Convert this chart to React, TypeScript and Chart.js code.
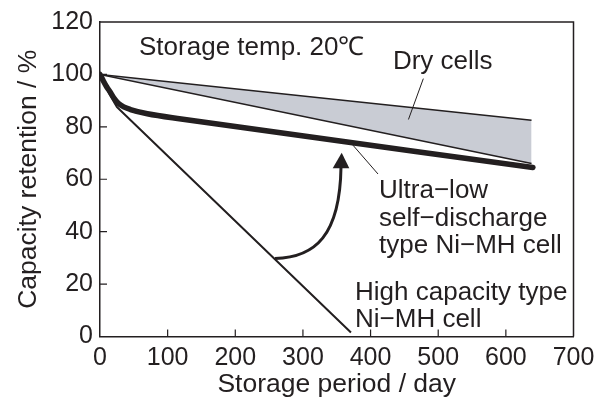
import { useEffect, useRef } from 'react';
import { Chart, registerables } from 'chart.js';

Chart.register(...registerables);

// ---- data ----
const xTickValues = [0, 100, 200, 300, 400, 500, 600, 700];
const yTickValues = [0, 20, 40, 60, 80, 100, 120];

const dryUpperDays = [0, 638];
const dryUpperValues = [100, 82.5];

const dryLowerDays = [0, 638];
const dryLowerValues = [100, 66];

const ultraLowDays = [0, 5, 10, 15, 20, 27, 35, 45, 70, 120, 640];
const ultraLowValues = [100, 97.5, 95.2, 93.3, 91.2, 89, 87.6, 86.6, 85, 83, 64.5];

const highCapDays = [0, 2, 4, 6, 8, 10, 13, 16, 20, 25, 371];
const highCapValues = [100, 98.8, 97.7, 96.6, 95.6, 94.6, 93.1, 91.7, 89.8, 87.6, 1.5];

const INK = '#231f20';
const FONT = '"Liberation Sans", Arial, Helvetica, sans-serif';

const toPoints = (xs: number[], ys: number[]) => xs.map((x, i) => ({ x, y: ys[i] }));

const decorPlugin = {
  id: 'decor',
  afterDraw(chart: any) {
    const { ctx, chartArea } = chart;
    const xs = chart.scales.x;
    const ys = chart.scales.y;
    const X = (d: number) => xs.getPixelForValue(d);
    const Y = (v: number) => ys.getPixelForValue(v);
    ctx.save();
    ctx.strokeStyle = INK;
    ctx.fillStyle = INK;
    ctx.lineCap = 'butt';

    // frame top & right
    ctx.lineWidth = 1.5;
    ctx.beginPath();
    ctx.moveTo(chartArea.left, chartArea.top);
    ctx.lineTo(chartArea.right, chartArea.top);
    ctx.lineTo(chartArea.right, chartArea.bottom);
    ctx.stroke();

    // inward tick marks
    ctx.lineWidth = 1.2;
    ctx.beginPath();
    xTickValues.forEach((t) => {
      if (t === 0 || t === 700) return;
      ctx.moveTo(X(t), chartArea.bottom);
      ctx.lineTo(X(t), chartArea.bottom - 7);
    });
    yTickValues.forEach((t) => {
      if (t === 0 || t === 120) return;
      ctx.moveTo(chartArea.left, Y(t));
      ctx.lineTo(chartArea.left + 7, Y(t));
    });
    ctx.stroke();

    // leader lines
    ctx.lineWidth = 1;
    ctx.beginPath();
    ctx.moveTo(X(478), Y(98.4));
    ctx.lineTo(X(456), Y(82.8));
    ctx.moveTo(X(372.6), Y(73.4));
    ctx.lineTo(X(411), Y(62));
    ctx.stroke();

    // curved arrow
    ctx.lineWidth = 3;
    ctx.beginPath();
    ctx.moveTo(X(258.7), Y(29.8));
    ctx.bezierCurveTo(X(317.9), Y(30.1), X(354.8), Y(38.5), X(356.3), Y(64.8));
    ctx.stroke();
    ctx.beginPath();
    ctx.moveTo(X(357.3), Y(70.1));
    ctx.lineTo(X(344), Y(64.2));
    ctx.lineTo(X(368.6), Y(64.2));
    ctx.closePath();
    ctx.fill();

    // text labels
    ctx.textAlign = 'left';
    ctx.textBaseline = 'alphabetic';
    ctx.font = `26px ${FONT}`;
    ctx.fillText('Storage temp. 20\u2103', X(57.7), Y(107.5));
    ctx.fillText('Dry cells', X(433), Y(102.2));
    ctx.fillText('Ultra\u2212low', X(412.5), Y(52.9));
    ctx.fillText('self\u2212discharge', X(412.5), Y(42.3));
    ctx.fillText('type Ni\u2212MH cell', X(412.5), Y(32));
    ctx.fillText('High capacity type', X(377), Y(13.8));
    ctx.fillText('Ni\u2212MH cell', X(377), Y(3.6));
    ctx.restore();
  },
};

export default function App() {
  const ref = useRef<HTMLCanvasElement | null>(null);

  useEffect(() => {
    if (!ref.current) return;
    const chart = new Chart(ref.current, {
      type: 'line',
      data: {
        datasets: [
          {
            label: 'Dry cells (upper)',
            data: toPoints(dryUpperDays, dryUpperValues),
            borderColor: INK,
            borderWidth: 1.5,
            pointRadius: 0,
            fill: false,
          },
          {
            label: 'Dry cells (lower)',
            data: toPoints(dryLowerDays, dryLowerValues),
            borderColor: INK,
            borderWidth: 1.5,
            pointRadius: 0,
            fill: '-1',
            backgroundColor: '#c9ccd4',
          },
          {
            label: 'Ultra-low self-discharge type Ni-MH cell',
            data: toPoints(ultraLowDays, ultraLowValues),
            borderColor: INK,
            borderWidth: 5.5,
            borderCapStyle: 'round',
            borderJoinStyle: 'round',
            pointRadius: 0,
            cubicInterpolationMode: 'monotone',
            fill: false,
          },
          {
            label: 'High capacity type Ni-MH cell',
            data: toPoints(highCapDays, highCapValues),
            borderColor: INK,
            borderWidth: 2,
            borderJoinStyle: 'round',
            pointRadius: 0,
            tension: 0,
            fill: false,
          },
        ],
      },
      options: {
        responsive: false,
        animation: false,
        events: [],
        layout: { padding: { top: 20, right: 31.5, left: 0, bottom: 0 } },
        plugins: {
          legend: { display: false },
          tooltip: { enabled: false },
        },
        scales: {
          x: {
            type: 'linear',
            min: 0,
            max: 700,
            afterFit: (s: any) => {
              s.height = 73.5;
            },
            afterBuildTicks: (s: any) => {
              s.ticks = xTickValues.map((v) => ({ value: v }));
            },
            grid: { display: false, drawTicks: false },
            border: { display: true, color: INK, width: 1.5 },
            ticks: {
              color: INK,
              font: { family: FONT, size: 25 },
              padding: 7,
              maxRotation: 0,
              autoSkip: false,
            },
            title: {
              display: true,
              text: 'Storage period / day',
              color: INK,
              font: { family: FONT, size: 26.5 },
              padding: { top: 0, bottom: 9 },
            },
          },
          y: {
            type: 'linear',
            min: 0,
            max: 120,
            afterFit: (s: any) => {
              s.width = 100;
            },
            afterBuildTicks: (s: any) => {
              s.ticks = yTickValues.map((v) => ({ value: v }));
            },
            grid: { display: false, drawTicks: false },
            border: { display: true, color: INK, width: 1.5 },
            ticks: {
              color: INK,
              font: { family: FONT, size: 25 },
              padding: 7,
              autoSkip: false,
            },
            title: {
              display: true,
              text: 'Capacity retention / %',
              color: INK,
              font: { family: FONT, size: 26.5 },
              padding: { top: 13, bottom: 0 },
            },
          },
        },
      },
      plugins: [decorPlugin],
    } as any);
    return () => chart.destroy();
  }, []);

  return (
    <div style={{ position: 'fixed', left: 0, top: 0, width: 605, height: 410, background: '#fff' }}>
      <canvas ref={ref} width={605} height={410} style={{ display: 'block', width: 605, height: 410 }} />
    </div>
  );
}
